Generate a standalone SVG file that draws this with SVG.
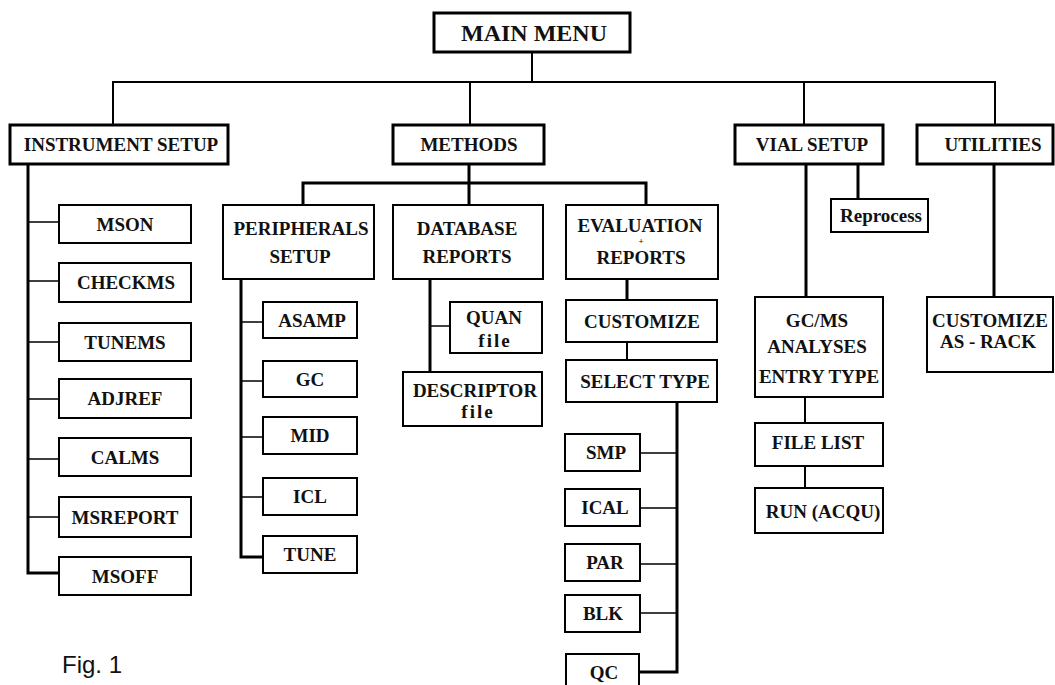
<svg xmlns="http://www.w3.org/2000/svg" width="1055" height="685" viewBox="0 0 1055 685">
<style>
rect{fill:#fff;stroke:#000;stroke-width:2}
rect.main{stroke-width:3}
text{font-family:"Liberation Serif","Times New Roman",serif;font-weight:bold;font-size:19px;text-anchor:middle;fill:#111}
text.f{letter-spacing:2px}
.c{fill:none;stroke:#000;stroke-width:2}
.t{fill:none;stroke:#000;stroke-width:3}
.s{fill:none;stroke:#000;stroke-width:1.5}
</style>
<rect x="0" y="0" width="1055" height="685" style="fill:#fff;stroke:none"/>
<g id="connectors">
<path class="c" d="M532 52V82M113 125V82H995V125M470 82V125M804 82V125"/>
<path class="t" d="M469 164V183M303 205V183H646V205M469 183V205"/>
<path class="t" d="M28 164V573H59"/>
<path class="s" d="M28 222H59M28 281H59M28 342H59M28 399H59M28 459H59M28 517H59"/>
<path class="t" d="M241 279V557H263"/>
<path class="s" d="M241 322H263M241 381H263M241 437H263M241 497H263"/>
<path class="t" d="M430 279V372"/>
<path class="s" d="M430 326H450"/>
<path class="t" d="M627 279V300"/>
<path class="c" d="M627 342V360"/>
<path class="t" d="M677 402V672H640"/>
<path class="s" d="M640 453H677M640 508H677M640 564H677M640 613H677"/>
<path class="t" d="M806 164V297M858 164V199M994 164V297"/>
<path class="c" d="M805 397V423M805 466V488"/>
</g>
<g id="main-menu"><rect class="main" x="434" y="13" width="196" height="39"/><text x="534" y="41" style="font-size:24px">MAIN MENU</text></g>
<g id="instrument-setup"><rect class="main" x="10" y="125" width="218" height="39"/><text x="121" y="151">INSTRUMENT SETUP</text></g>
<g id="methods"><rect class="main" x="393" y="125" width="151" height="39"/><text x="469" y="151">METHODS</text></g>
<g id="vial-setup"><rect class="main" x="735" y="125" width="148" height="39"/><text x="812" y="151">VIAL SETUP</text></g>
<g id="utilities"><rect class="main" x="917" y="125" width="136" height="39"/><text x="993" y="151">UTILITIES</text></g>
<g id="mson"><rect x="59" y="205" width="132" height="38"/><text x="125" y="231">MSON</text></g>
<g id="checkms"><rect x="59" y="263" width="132" height="39"/><text x="126" y="289">CHECKMS</text></g>
<g id="tunems"><rect x="59" y="323" width="132" height="38"/><text x="125" y="349">TUNEMS</text></g>
<g id="adjref"><rect x="59" y="379" width="132" height="39"/><text x="125" y="405">ADJREF</text></g>
<g id="calms"><rect x="59" y="438" width="132" height="38"/><text x="125" y="464">CALMS</text></g>
<g id="msreport"><rect x="59" y="497" width="132" height="40"/><text x="125" y="524">MSREPORT</text></g>
<g id="msoff"><rect x="59" y="557" width="132" height="38"/><text x="125" y="583">MSOFF</text></g>
<g id="peripherals-setup"><rect x="223" y="205" width="151" height="74"/><text x="301" y="235">PERIPHERALS</text><text x="300" y="263">SETUP</text></g>
<g id="asamp"><rect x="263" y="302" width="94" height="36"/><text x="312" y="327">ASAMP</text></g>
<g id="gc"><rect x="263" y="361" width="94" height="36"/><text x="310" y="386">GC</text></g>
<g id="mid"><rect x="263" y="417" width="94" height="37"/><text x="310" y="442">MID</text></g>
<g id="icl"><rect x="263" y="478" width="94" height="37"/><text x="310" y="503">ICL</text></g>
<g id="tune"><rect x="263" y="536" width="94" height="37"/><text x="310" y="561">TUNE</text></g>
<g id="database-reports"><rect x="393" y="205" width="150" height="74"/><text x="467" y="235">DATABASE</text><text x="467" y="263">REPORTS</text></g>
<g id="quan-file"><rect x="450" y="302" width="92" height="51"/><text x="494" y="324">QUAN</text><text class="f" x="495" y="347">file</text></g>
<g id="descriptor-file"><rect x="403" y="372" width="139" height="54"/><text x="475" y="397">DESCRIPTOR</text><text class="f" x="478" y="418">file</text></g>
<g id="evaluation-reports"><rect x="566" y="205" width="152" height="74"/><text x="640" y="232">EVALUATION</text><text x="641" y="244" style="font-size:9px">+</text><text x="641" y="263.5">REPORTS</text></g>
<g id="customize"><rect x="566" y="300" width="151" height="42"/><text x="642" y="328">CUSTOMIZE</text></g>
<g id="select-type"><rect x="566" y="360" width="151" height="42"/><text x="645" y="388">SELECT TYPE</text></g>
<g id="smp"><rect x="565" y="434" width="75" height="37"/><text x="606" y="459">SMP</text></g>
<g id="ical"><rect x="565" y="489" width="75" height="37"/><text x="605" y="514">ICAL</text></g>
<g id="par"><rect x="565" y="544" width="75" height="37"/><text x="605" y="569">PAR</text></g>
<g id="blk"><rect x="565" y="595" width="75" height="37"/><text x="603" y="620">BLK</text></g>
<g id="qc"><rect x="566" y="654" width="73" height="40"/><text x="604" y="679">QC</text></g>
<g id="reprocess"><rect x="831" y="199" width="97" height="33"/><text x="881" y="222">Reprocess</text></g>
<g id="gcms-analyses"><rect x="755" y="297" width="128" height="100"/><text x="817" y="327">GC/MS</text><text x="817" y="353">ANALYSES</text><text x="819" y="383">ENTRY TYPE</text></g>
<g id="file-list"><rect x="755" y="423" width="128" height="43"/><text x="818" y="449">FILE LIST</text></g>
<g id="run-acqu"><rect x="755" y="488" width="128" height="45"/><text x="823" y="518">RUN (ACQU)</text></g>
<g id="customize-as-rack"><rect x="927" y="297" width="126" height="75"/><text x="990" y="327">CUSTOMIZE</text><text x="988" y="348">AS - RACK</text></g>
<text x="62" y="673" style="font-family:'Liberation Sans',Arial,sans-serif;font-weight:normal;font-size:24px;text-anchor:start">Fig. 1</text>
</svg>
